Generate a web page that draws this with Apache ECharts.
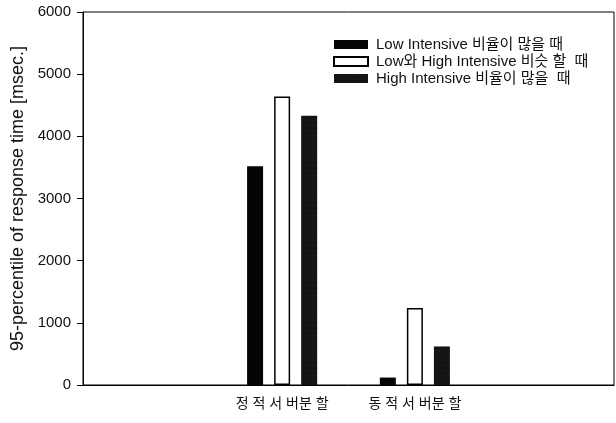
<!DOCTYPE html>
<html>
<head>
<meta charset="utf-8">
<script src="https://cdn.jsdelivr.net/npm/echarts@6/dist/echarts.min.js"></script>
<style>
  html, body { margin: 0; padding: 0; background: #fff; }
  #chart { width: 616px; height: 423px; }
</style>
</head>
<body>
<div id="chart"></div>
<script>
// Partitioning schemes on the x axis (outer slots left empty for spacing)
const categories = ['', '정 적 서 버분 할', '동 적 서 버분 할', ''];
const seriesNames = [
  'Low Intensive 비율이 많을 때',
  'Low와 High Intensive 비슷 할  때',
  'High Intensive 비율이 많을  때'
];
// 95th percentile response time, msec
const lowHeavy  = [null, 3520, 120, null];
const balanced  = [null, 4640, 1240, null];
const highHeavy = [null, 4330, 620, null];
const yTicks = { min: 0, max: 6000, interval: 1000 };

const FONT = '"Liberation Sans", Arial, "Noto Sans CJK KR", sans-serif';

const chart = echarts.init(document.getElementById('chart'), null, { renderer: 'canvas' });

const barBase = { type: 'bar', barWidth: 16, barGap: '69%' };

chart.setOption({
  animation: false,
  backgroundColor: '#fff',
  grid: {
    left: 83, right: 2, top: 12, bottom: 38,
    show: true, borderColor: '#000', borderWidth: 1
  },
  legend: {
    left: 328, top: 32, orient: 'vertical',
    itemWidth: 34, itemHeight: 9, itemGap: 2,
    icon: 'rect',
    textStyle: { fontFamily: FONT, fontSize: 15, color: '#111', padding: [0, 0, 0, 3] },
    data: seriesNames
  },
  xAxis: {
    type: 'category',
    data: categories,
    axisLine: { lineStyle: { color: '#000', width: 1 } },
    axisTick: {
      alignWithLabel: true, length: 5,
      interval: (i) => i === 1 || i === 2,
      lineStyle: { color: '#000' }
    },
    axisLabel: { interval: 0, fontFamily: FONT, fontSize: 14, color: '#111', margin: 12 }
  },
  yAxis: {
    type: 'value',
    min: yTicks.min, max: yTicks.max, interval: yTicks.interval,
    name: '95-percentile of response time [msec.]',
    nameLocation: 'middle', nameGap: 56,
    nameTextStyle: { fontFamily: FONT, fontSize: 18, color: '#111' },
    axisLine: { show: true, lineStyle: { color: '#000', width: 1 } },
    axisTick: { show: true, length: 6, lineStyle: { color: '#000' } },
    splitLine: { show: false },
    axisLabel: {
      fontFamily: FONT, fontSize: 15, color: '#111', margin: 12,
      formatter: (v) => String(v)
    }
  },
  series: [
    Object.assign({}, barBase, {
      name: seriesNames[0], data: lowHeavy,
      itemStyle: { color: '#050505' }
    }),
    Object.assign({}, barBase, {
      name: seriesNames[1], data: balanced,
      itemStyle: { color: '#fff', borderColor: '#000', borderWidth: 1.5 }
    }),
    Object.assign({}, barBase, {
      name: seriesNames[2], data: highHeavy,
      itemStyle: {
        color: '#141414',
        decal: {
          symbol: 'rect', symbolSize: 0.5,
          color: 'rgba(200,200,200,0.45)',
          dashArrayX: [[1, 3], [1, 5]], dashArrayY: [1, 4],
          rotation: 0
        }
      }
    })
  ]
});
</script>
</body>
</html>
